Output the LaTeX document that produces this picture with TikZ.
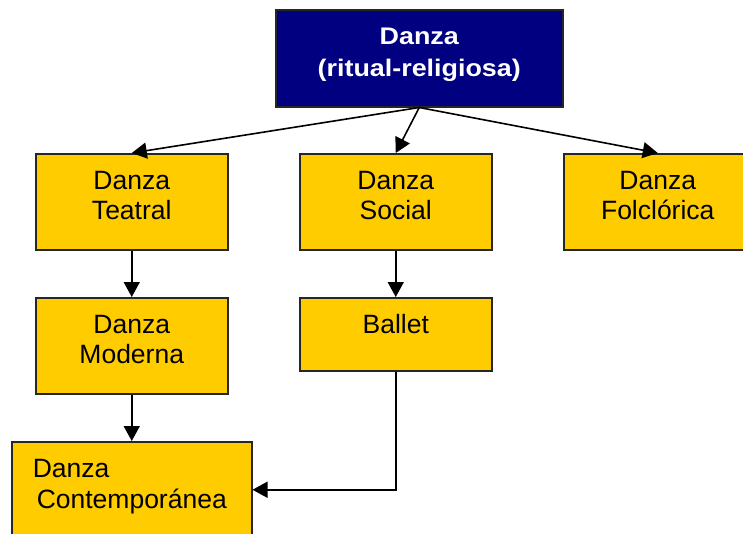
\documentclass[tikz,border=0pt]{standalone}
\usepackage{fontspec}
\setmainfont{Liberation Sans}
\newfontfamily\topfont[FakeStretch=1.12]{Liberation Sans Bold}
\usetikzlibrary{arrows.meta}
\definecolor{navy}{RGB}{0,0,128}
\definecolor{gold}{RGB}{255,204,0}
\tikzset{
  ybox/.style={draw=black!85, line width=1.5pt, fill=gold, anchor=north west, inner sep=0pt,
    text width=#1, align=center, text height=36pt, font=\fontsize{26.5}{30}\selectfont},
  ybox/.default=192pt,
  arr/.style={line width=1.6pt, -{Triangle[length=15pt,width=16pt]}}
}
\begin{document}
\begin{tikzpicture}[x=1pt,y=-1pt]
\useasboundingbox (0,0) rectangle (743,533);
\node[draw=black!85, line width=1.5pt, fill=navy, text=white, anchor=north west, inner sep=0pt,
  text width=287pt, align=center, text height=35pt, text depth=62pt,
  font=\topfont\fontsize{24}{32}\selectfont] (top) at (275,9) {Danza\\(ritual-religiosa)};
\node[ybox, text depth=60pt] (teatral) at (35,153) {Danza\\Teatral};
\node[ybox, text depth=60pt] (social) at (299,153) {Danza\\Social};
\node[ybox=188pt, text depth=60pt] (folk) at (563,153) {Danza\\Folclórica};
\node[ybox, text depth=60pt] (moderna) at (35,297) {Danza\\Moderna};
\node[ybox, text depth=37pt] (ballet) at (299,297) {Ballet};
\node[ybox=240pt, align=left, text depth=60pt, font=\fontsize{26.5}{31}\selectfont] (contemp) at (11,441)
  {\hspace*{21pt}Danza\\\hspace*{25pt}Contemporánea};
\draw[arr] (top.south) -- (teatral.north);
\draw[arr] (top.south) -- (social.north);
\draw[arr] (top.south) -- (folk.north);
\draw[arr] (teatral.south) -- (moderna.north);
\draw[arr] (social.south) -- (ballet.north);
\draw[arr] (moderna.south) -- (contemp.north);
\draw[arr] (ballet.south) |- (contemp.east);
\end{tikzpicture}
\end{document}
